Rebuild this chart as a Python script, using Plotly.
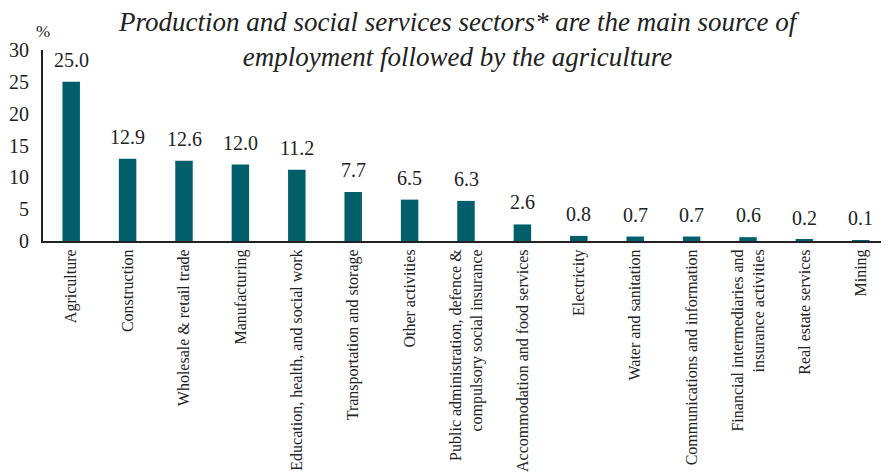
import plotly.graph_objects as go

categories = [
    "Agriculture", "Construction", "Wholesale & retail trade", "Manufacturing",
    "Education, health, and social work", "Transportation and storage",
    "Other activities",
    "Public administration, defence &<br>compulsory social insurance",
    "Accommodation and food services", "Electricity", "Water and sanitation",
    "Communications and information",
    "Financial intermediaries and<br>insurance activities",
    "Real estate services", "Mining",
]
values = [25.0, 12.9, 12.6, 12.0, 11.2, 7.7, 6.5, 6.3, 2.6, 0.8, 0.7, 0.7, 0.6, 0.2, 0.1]
y_ticks = [0, 5, 10, 15, 20, 25, 30]

FONT = "Times New Roman, Liberation Serif, serif"
TXT = "#222222"

fig = go.Figure(go.Bar(
    x=categories, y=values,
    marker=dict(color="#005F6B", line=dict(width=0)),
    cliponaxis=False, width=0.31,
))

value_labels = [
    dict(
        x=c, y=v, xref="x", yref="y", text=f"{v:.1f}", showarrow=False,
        yanchor="middle", xanchor="center", yshift=22,
        font=dict(family=FONT, size=20, color=TXT),
    )
    for c, v in zip(categories, values)
]

fig.update_layout(
    width=881, height=465,
    margin=dict(l=35, r=0, t=42, b=232),
    plot_bgcolor="white", paper_bgcolor="white",
    font=dict(family=FONT, color=TXT),
    showlegend=False,
    xaxis=dict(
        tickangle=-90, tickfont=dict(family=FONT, size=16, color=TXT),
        showline=True, linecolor=TXT, linewidth=2, ticks="",
        showgrid=False, automargin=False,
    ),
    yaxis=dict(
        range=[0, 30], tickvals=y_ticks, tickfont=dict(family=FONT, size=20, color=TXT),
        showline=True, linecolor=TXT, linewidth=2, showgrid=False, zeroline=False,
        ticks="", automargin=False, ticklabelstandoff=8,
    ),
    annotations=value_labels + [
        dict(
            text="<i>Production and social services sectors* are the main source of<br>employment followed by the agriculture</i>",
            xref="paper", yref="paper", x=0.492, y=1.055,
            xanchor="center", yanchor="middle", showarrow=False,
            font=dict(family=FONT, size=27, color=TXT),
        ),
        dict(
            text="%", xref="paper", yref="paper", x=0.0, y=1.035,
            xanchor="center", yanchor="bottom", showarrow=False,
            font=dict(family=FONT, size=17, color=TXT),
        ),
    ],
)

fig.write_html("out.html")
